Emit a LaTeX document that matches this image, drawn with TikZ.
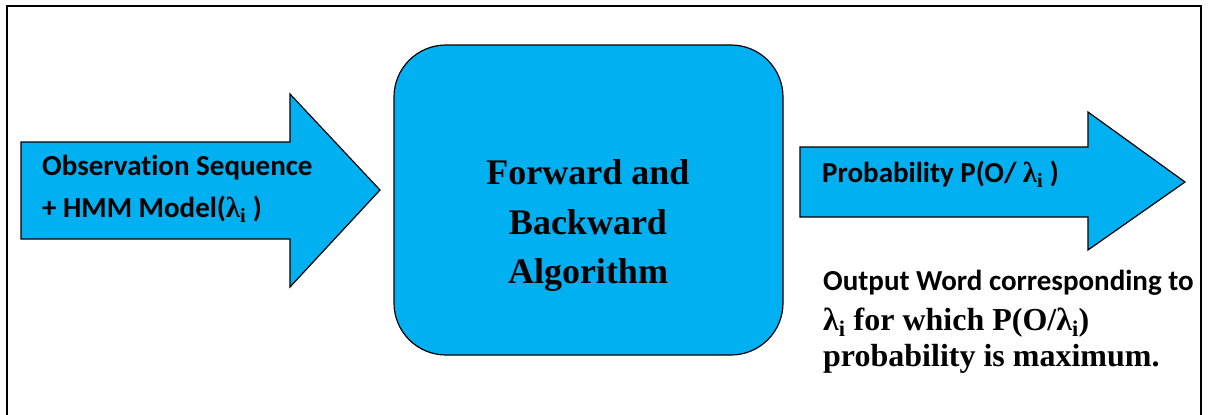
\documentclass[tikz,border=0pt]{standalone}
\usepackage{fontspec}
\setmainfont{Liberation Serif}
\newfontfamily\calfont[Ligatures=NoCommon]{Carlito}
\definecolor{hmmblue}{HTML}{00B0F0}
\tikzset{
  bluefill/.style={draw=black, line width=1.2pt, fill=hmmblue, line join=miter},
  caltext/.style={font=\calfont\bfseries\fontsize{29}{34}\selectfont, inner sep=0pt},
  romtext/.style={font=\bfseries\fontsize{32}{40}\selectfont, inner sep=0pt},
  boxtext/.style={font=\bfseries\fontsize{36}{50}\selectfont, inner sep=0pt}
}
\newcommand{\lami}{{\rmfamily\bfseries λ\textsubscript{i}}}
\begin{document}
\begin{tikzpicture}[x=1pt,y=-1pt]
\useasboundingbox (0,0) rectangle (1211,415);
% outer frame
\draw[line width=2pt] (7,415) -- (7,6) -- (1201,6) -- (1201,415);
% input arrow
\draw[bluefill] (21,142) -- (290,142) -- (290,94) -- (380,190) -- (290,287) -- (290,239) -- (21,239) -- cycle;
\node[caltext, anchor=base west] (obsone) at (42,175) {Observation Sequence};
\node[caltext, anchor=base west] (obstwo) at (42,217) {+ HMM Model(\lami\ )};
% algorithm box
\draw[bluefill, rounded corners=52pt] (394,45) rectangle (783,355);
\node[boxtext, anchor=base] (algone) at (588,184) {Forward and};
\node[boxtext, anchor=base] (algtwo) at (588,234) {Backward};
\node[boxtext, anchor=base] (algthree) at (588,283) {Algorithm};
% output arrow
\draw[bluefill] (800,147) -- (1088,147) -- (1088,112) -- (1185,182) -- (1088,250) -- (1088,217) -- (800,217) -- cycle;
\node[caltext, anchor=base west] (prob) at (822,182) {Probability P(O/ \lami\ )};
% result text
\node[caltext, anchor=base west] (outone) at (823,290) {Output Word corresponding to};
\node[romtext, anchor=base west] (outtwo) at (823,330) {\lami\ for which P(O/\lami)};
\node[romtext, anchor=base west] (outthree) at (823,366) {probability is maximum.};
\end{tikzpicture}
\end{document}
